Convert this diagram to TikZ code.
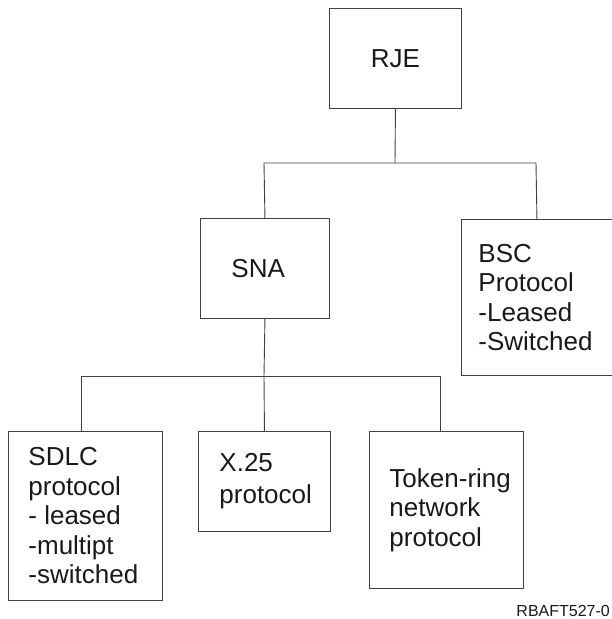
\documentclass[tikz,border=0pt]{standalone}
\usepackage{fontspec}
\setmainfont{Liberation Sans}
\usetikzlibrary{positioning}

\begin{document}
\begin{tikzpicture}[x=1pt,y=-1pt,line width=0.9pt,
  every node/.style={text=black!90},
  box/.style={draw=black!75,anchor=north west,inner ysep=0pt,align=flush left,font=\fontsize{26}{29.5}\selectfont}]
\useasboundingbox (0,0) rectangle (611,619);
% boxes
\node[box,align=center,inner sep=0pt,minimum width=132,minimum height=100] (rje) at (329,8) {RJE};
\node[box,text width=67,inner xsep=31,minimum height=100] (sna) at (200,218) {SNA};
\node[box,text width=117,inner xsep=17,minimum height=156] (bsc) at (461,219) {BSC\\Protocol\\-Leased\\-Switched};
\node[box,text width=114,inner xsep=20,minimum height=169] (sdlc) at (8,431) {SDLC\\protocol\\- leased\\-multipt\\-switched};
\node[box,text width=90,inner xsep=21,minimum height=100,font=\fontsize{26}{32}\selectfont] (x25) at (198,431) {X.25\\protocol};
\node[box,text width=114,inner xsep=20,minimum height=157] (tok) at (369,431) {\mbox{Token-ring}\\network\\protocol};
\node[anchor=base west,inner sep=0pt,font=\fontsize{16}{18}\selectfont] (figid) at (516,616) {RBAFT527-0};
% bus lines
\coordinate (j0) at (395,163);\coordinate (j1) at (264,163);\coordinate (j2) at (536,163);
\coordinate (k1) at (81,376);\coordinate (k2) at (264,376);\coordinate (k3) at (440,376);
\begin{scope}[draw=black!75]
\draw (rje.south)--(j0);
\draw (sna.north)--(j1)--(j2)--(bsc.north);
\draw (sna.south)--(k2);
\draw (k1 |- sdlc.north)--(k1)--(k3)--(k3 |- tok.north);
\draw (k2)--(x25.north);
\end{scope}
\end{tikzpicture}
\end{document}
